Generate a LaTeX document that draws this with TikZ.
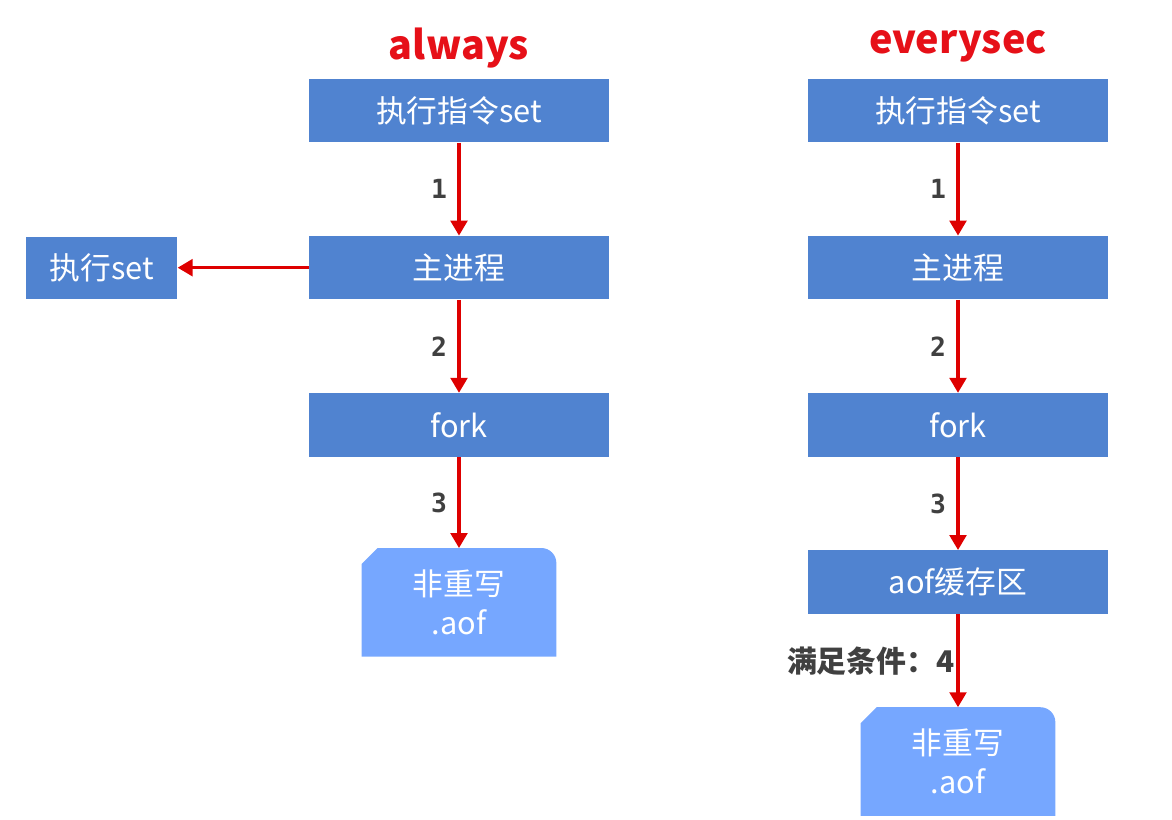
\documentclass[tikz,border=0pt]{standalone}
\usepackage{fontspec}
\usepackage{xcolor}
\usetikzlibrary{arrows.meta,positioning,backgrounds}
\newfontfamily\cjk{Noto Sans CJK SC}
\newfontfamily\digits{DejaVu Sans Mono}
\definecolor{boxblue}{RGB}{80,131,208}
\definecolor{fileblue}{RGB}{118,167,255}
\definecolor{arrowred}{RGB}{222,0,0}
\definecolor{titlered}{RGB}{230,16,24}
\definecolor{labelgray}{RGB}{64,64,64}
\tikzset{
  stepbox/.style={
    fill=boxblue,
    text=white,
    minimum width=6cm,
    minimum height=1.27cm,
    inner sep=0pt,
    font=\cjk\fontsize{17.5}{20}\selectfont
  },
  sidebox/.style={stepbox, minimum width=3.02cm, minimum height=1.24cm},
  filebox/.style={text=white, minimum width=3.88cm, minimum height=2.16cm,
    inner sep=0pt, align=center, font=\cjk\fontsize{17.5}{22.5}\selectfont},
  headline/.style={text=titlered, font=\cjk\bfseries\fontsize{22.5}{26}\selectfont},
  flow/.style={-{Triangle[length=8.5pt,width=9.5pt]}, line width=1.8pt, draw=arrowred},
  steplabel/.style={text=labelgray, font=\digits\bfseries\fontsize{15}{17}\selectfont,
    left, inner sep=6pt},
  condlabel/.style={text=labelgray, font=\cjk\bfseries\fontsize{17}{20}\selectfont,
    left, inner sep=1pt}
}
% file shape: cut corner top left, round corner top right
\newcommand{\filefill}[1]{%
  \fill[fileblue] (#1.south west) -- ([yshift=-0.32cm]#1.north west)
    -- ([xshift=0.32cm]#1.north west) -- ([xshift=-0.3cm]#1.north east)
    arc[start angle=90, end angle=0, radius=0.3cm] -- (#1.south east) -- cycle;}

\begin{document}
\begin{tikzpicture}[node distance=1.86cm]
\useasboundingbox (0,0) rectangle (23.44,-16.4);

% always
\node[headline] (titleA) at (9.18,-0.96) {always};
\node[stepbox] (cmdA) at (9.18,-2.21) {执行指令set};
\node[stepbox, below=of cmdA] (mainA) {主进程};
\node[stepbox, below=of mainA] (forkA) {fork};
\node[filebox, below=1.82cm of forkA] (fileA) {非重写\\.aof};
\node[sidebox, left=2.62cm of mainA] (setA) {执行set};

% everysec
\node[headline] (titleB) at (19.16,-0.92) {everysec};
\node[stepbox] (cmdB) at (19.16,-2.21) {执行指令set};
\node[stepbox, below=of cmdB] (mainB) {主进程};
\node[stepbox, below=of mainB] (forkB) {fork};
\node[stepbox, below=of forkB] (aofB) {aof缓存区};
\node[filebox, below=1.86cm of aofB] (fileB) {非重写\\.aof};

\begin{scope}[on background layer]
\filefill{fileA}
\filefill{fileB}
\end{scope}

\draw[flow] (cmdA) -- node[steplabel] {1} (mainA);
\draw[flow] (mainA) -- node[steplabel] {2} (forkA);
\draw[flow] (forkA) -- node[steplabel] {3} (fileA);
\draw[flow] (mainA) -- (setA);

\draw[flow] (cmdB) -- node[steplabel] {1} (mainB);
\draw[flow] (mainB) -- node[steplabel] {2} (forkB);
\draw[flow] (forkB) -- node[steplabel] {3} (aofB);
\draw[flow] (aofB) -- node[condlabel] {满足条件：4} (fileB);
\end{tikzpicture}
\end{document}
